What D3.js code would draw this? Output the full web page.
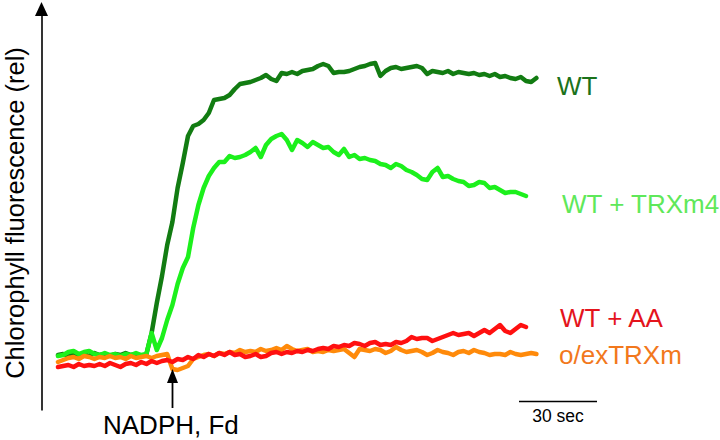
<!DOCTYPE html>
<html><head><meta charset="utf-8">
<script src="https://cdn.jsdelivr.net/npm/d3@7"></script>
<style>html,body{margin:0;padding:0;background:#fff}svg{display:block}text{font-family:"Liberation Sans",Arial,sans-serif}</style>
</head><body><svg id="c" width="720" height="440"></svg>
<script>
// sampling: one value every 2 s, starting at t = 0 s
const sampleStep = 2;
const arrowTime = 44;      // NADPH, Fd addition (s)
const scaleBarSec = 30;

const seriesNames = ["WT", "WT + TRXm4", "o/exTRXm", "WT + AA"];
const lineColors = ["#127c12", "#1cf01c", "#ff8a0a", "#ff1010"];
const labelColors = ["#1b721b", "#5fe85a", "#f2781c", "#e4141c"];

const wt = [25,26,24,27,25,26,24,27,25,26,
  24,26,25,27,25,26,24,26,47,77,
  104,135,158,192,217,244,254,256,260,267,
  280,281,282,285,291,296,297,298,300,302,
  305,301,299,307,306,308,306,309,310,311,
  314,316,314,307,308,308,309,311,313,314,
  316,317,304,309,312,313,311,312,313,314,
  312,306,309,308,307,309,306,308,307,306,
  307,305,306,304,306,303,304,302,301,303,
  299,298,302];
const wtTrx = [24,25,28,29,26,28,29,26,25,27,
  25,26,24,26,25,27,25,26,47,30,
  42,60,75,96,112,123,152,175,192,204,
  212,218,218,224,222,223,225,228,232,223,
  235,241,244,246,240,230,240,237,233,238,
  235,232,233,228,225,231,223,225,221,222,
  220,219,216,215,212,216,214,210,208,205,
  201,200,208,212,203,204,201,199,198,194,
  195,198,197,192,193,190,187,188,188,186,184];
const oex = [18,20,22,23,21,24,23,21,23,22,24,
  22,23,21,24,22,23,24,22,24,25,
  26,11,10,12,14,21,23,25,26,24,
  27,26,28,27,30,28,29,28,31,29,
  30,32,30,34,31,29,30,31,28,29,
  28,30,29,30,31,27,23,31,30,29,
  31,30,27,29,33,30,28,29,30,28,
  25,27,30,28,27,25,28,29,27,30,
  28,27,25,26,26,25,28,26,25,26,27,26];
const wtAA = [13,14,15,13,16,14,15,14,16,14,
  17,15,13,16,17,15,18,16,19,17,
  19,20,18,21,20,23,21,25,23,26,
  24,27,25,28,25,26,23,24,26,23,
  24,27,28,26,28,27,29,28,30,29,
  31,32,31,34,33,35,34,37,36,34,
  37,38,35,36,35,38,37,39,43,41,
  42,42,39,41,43,45,47,45,46,47,
  44,47,50,47,51,55,49,47,51,55,53];
const seriesValues = [wt, wtTrx, oex, wtAA];
const labelLevels = [285, 167, 16, 53];  // label baselines in data units
const yLabel = "Chlorophyll fluorescence (rel)";
const arrowLabel = "NADPH, Fd";
const scaleLabel = "30 sec";

const svg = d3.select("#c");
svg.append("rect").attr("width",720).attr("height",440).attr("fill","#fff");

const x = d3.scaleLinear().domain([0, 185]).range([58, 539]);
const y = d3.scaleLinear().domain([0, 300]).range([380, 80]);

// y axis (no ticks) with arrow head
const axisX = 41.5;
const yAxisScale = d3.scaleLinear().domain([0,1]).range([410, 14]);
svg.append("g").attr("transform",`translate(${axisX},0)`)
  .call(d3.axisLeft(yAxisScale).tickValues([]).tickSizeOuter(0))
  .call(g=>g.select(".domain").attr("stroke","#000").attr("stroke-width",1.6));
svg.append("path").attr("d",`M${axisX-6.5},16 L${axisX+6.5},16 L${axisX},2 Z`).attr("fill","#000");

svg.append("text").attr("transform","translate(23.5,213) rotate(-90)")
  .attr("text-anchor","middle").attr("font-size",25.5).attr("fill","#000").text(yLabel);

// lines
const line = d3.line().x((d,i)=>x(i*sampleStep)).y(d=>y(d)).curve(d3.curveLinear);
seriesValues.forEach((vals,k)=>{
  svg.append("path").datum(vals).attr("d",line).attr("fill","none")
    .attr("stroke",lineColors[k]).attr("stroke-width",4.5)
    .attr("stroke-linejoin","round").attr("stroke-linecap","round");
});

// labels
const labelX = [557, 562, 559, 560];
seriesNames.forEach((n,k)=>{
  svg.append("text").attr("x",labelX[k]).attr("y",y(labelLevels[k]))
    .attr("font-size",26).attr("fill",labelColors[k]).text(n);
});

// NADPH arrow
const ax = Math.round(x(arrowTime))+0.5;
svg.append("line").attr("x1",ax).attr("x2",ax).attr("y1",408).attr("y2",380)
  .attr("stroke","#000").attr("stroke-width",1.8);
svg.append("path").attr("d",`M${ax-5.5},383 L${ax+5.5},383 L${ax},369 Z`).attr("fill","#000");
svg.append("text").attr("x",103).attr("y",434).attr("font-size",26).attr("fill","#000").text(arrowLabel);

// scale bar
const sb0 = 519, sb1 = sb0 + (x(scaleBarSec)-x(0));
svg.append("line").attr("x1",sb0).attr("x2",sb1).attr("y1",401.5).attr("y2",401.5)
  .attr("stroke","#000").attr("stroke-width",1.5);
svg.append("text").attr("x",(sb0+sb1)/2).attr("y",422).attr("text-anchor","middle")
  .attr("font-size",17.5).attr("fill","#000").text(scaleLabel);
</script></body></html>
